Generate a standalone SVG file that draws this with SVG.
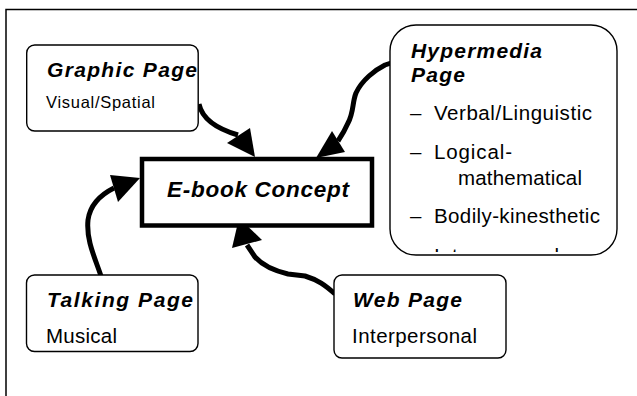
<svg xmlns="http://www.w3.org/2000/svg" width="637" height="396" viewBox="0 0 637 396">
<style>
.box{fill:#fff;stroke:#000;stroke-width:1.4}
.t{font-family:"Liberation Sans",Arial,sans-serif;fill:#000}
.h{font-weight:bold;font-style:italic;font-size:21px}
.b{font-size:20.5px}
.s{font-size:16.5px}
.conn{fill:none;stroke:#000;stroke-width:5;stroke-linejoin:round}
.head{fill:#000;stroke:none}
</style>
<defs>
<clipPath id="hyperclip"><rect x="390" y="25" width="227" height="227"/></clipPath>
</defs>
<rect width="637" height="396" fill="#fff"/>
<path d="M6,396 V9.5 H637" fill="none" stroke="#000" stroke-width="1.5"/>

<g id="connectors">
<path class="conn" d="M199,104 C202,118 214,128 238,135"/>
<polygon class="head" points="255,157 227,143 250,128"/>
<path class="conn" d="M391,63 L385,65 C375,70 362,80 356,93 C352,103 354,112 348,123 C345,130 342,135 338,141"/>
<polygon class="head" points="316,158 332,131 345,152"/>
<path class="conn" d="M101,276 C95,258 86,240 88,220 C90,205 100,195 114,188"/>
<polygon class="head" points="140,178 110,175 118,202"/>
<path class="conn" d="M335,294 C325,285 318,280 305,276 L288,274 C275,271 262,265 255,257 L247,245"/>
<polygon class="head" points="239,218 232,248 262,240"/>
</g>

<g id="ebook">
<rect x="142" y="159" width="230" height="66.5" fill="#fff" stroke="#000" stroke-width="4.5"/>
<text class="t" x="167" y="197" font-size="22.5" font-weight="bold" font-style="italic" textLength="182" lengthAdjust="spacing">E-book Concept</text>
</g>

<g id="graphic">
<rect class="box" x="26.7" y="45" width="171.5" height="86" rx="8"/>
<text class="t h" x="47" y="77" textLength="150" lengthAdjust="spacing">Graphic Page</text>
<text class="t s" x="46" y="108" textLength="109" lengthAdjust="spacing">Visual/Spatial</text>
</g>

<g id="hypermedia">
<rect class="box" x="390" y="25" width="227" height="230" rx="26"/>
<g clip-path="url(#hyperclip)">
<text class="t h" x="411" y="58" textLength="131" lengthAdjust="spacing">Hypermedia</text>
<text class="t h" x="411" y="82" textLength="54" lengthAdjust="spacing">Page</text>
<text class="t b" x="410" y="119.5">–</text>
<text class="t b" x="434" y="119.5" textLength="158" lengthAdjust="spacing">Verbal/Linguistic</text>
<text class="t b" x="410" y="158.5">–</text>
<text class="t b" x="434" y="158.5" textLength="78" lengthAdjust="spacing">Logical-</text>
<text class="t b" x="458" y="185" textLength="124" lengthAdjust="spacing">mathematical</text>
<text class="t b" x="410" y="222.5">–</text>
<text class="t b" x="434" y="222.5" textLength="166" lengthAdjust="spacing">Bodily-kinesthetic</text>
<text class="t b" x="410" y="263">–</text>
<text class="t b" x="434" y="263" textLength="125" lengthAdjust="spacing">Intrapersonal</text>
</g>
</g>

<g id="talking">
<rect class="box" x="26.5" y="275" width="171.5" height="76.5" rx="8"/>
<text class="t h" x="47" y="307" textLength="146" lengthAdjust="spacing">Talking Page</text>
<text class="t b" x="46" y="343.3" textLength="71" lengthAdjust="spacing">Musical</text>
</g>

<g id="web">
<rect class="box" x="334" y="275" width="172" height="83" rx="8"/>
<text class="t h" x="353" y="307" textLength="109" lengthAdjust="spacing">Web Page</text>
<text class="t b" x="352" y="343.3" textLength="125" lengthAdjust="spacing">Interpersonal</text>
</g>
</svg>
